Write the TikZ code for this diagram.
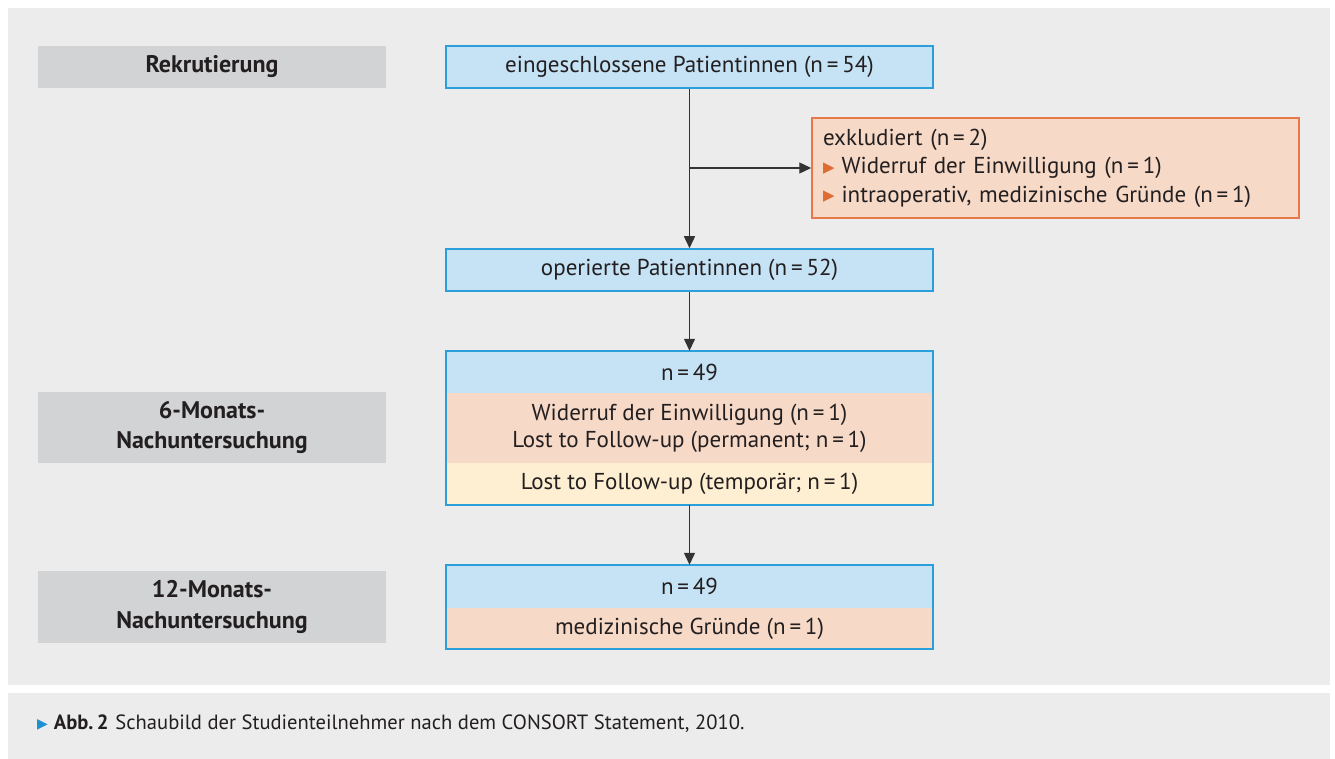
\documentclass[tikz,border=0pt]{standalone}
\usepackage{fontspec}
\setmainfont{PT Sans}
\newfontfamily\symf{DejaVu Sans}
\usetikzlibrary{arrows.meta}
\definecolor{panel}{HTML}{EBECEB}
\definecolor{lblgray}{HTML}{D1D3D4}
\definecolor{bluef}{HTML}{C6E2F5}
\definecolor{blueb}{HTML}{2A9FDB}
\definecolor{peach}{HTML}{F6D9C7}
\definecolor{exor}{HTML}{E8774A}
\definecolor{bullet}{HTML}{E06A33}
\definecolor{yel}{HTML}{FEEFD2}
\definecolor{txt}{HTML}{231F20}
\definecolor{arrc}{HTML}{333333}
\definecolor{capblue}{HTML}{1E8FD0}
\newcommand{\mainfs}{\fontsize{23}{27}\selectfont}
\newcommand{\bul}{{\color{bullet}\fontsize{15}{15}\symf\raisebox{1.5pt}{▶}}\hspace{7pt}}
\begin{document}
\begin{tikzpicture}[x=1pt,y=-1pt,
  lbl/.style={fill=lblgray, minimum width=348pt, inner sep=0pt, text=txt,
    font=\bfseries\fontsize{24}{30.5}\selectfont, align=center},
  part/.style={minimum width=487pt, inner sep=0pt, text=txt, font=\mainfs, align=center},
  bluebox/.style={part, fill=bluef, draw=blueb, line width=1.5pt},
  frame/.style={draw=blueb, line width=1.5pt},
  exbox/.style={fill=peach, draw=exor, line width=1.5pt, text width=465pt,
    inner xsep=11pt, inner ysep=0pt, minimum height=100pt, align=left, text=txt,
    font=\fontsize{23}{28.5}\selectfont},
  arr/.style={draw=arrc, line width=1.3pt, -{Triangle[length=12pt,width=11pt]}}]
\useasboundingbox (0,0) rectangle (1335,759);
\fill[white] (0,0) rectangle (1335,759);
\fill[panel] (8,8) rectangle (1330,685);
\fill[panel] (8,693) rectangle (1330,759);

% labels
\node[lbl, minimum height=42pt] (rek) at (212,67) {Rekrutierung};
\node[lbl, minimum height=71pt] (m6) at (212,427.5) {6-Monats-\\Nachuntersuchung};
\node[lbl, minimum height=72pt] (m12) at (212,607) {12-Monats-\\Nachuntersuchung};

% main column
\node[bluebox, minimum height=42pt] (incl) at (689.5,67) {eingeschlossene Patientinnen (n\,=\,54)};
\node[exbox] (excl) at (1055.5,168) {exkludiert (n\,=\,2)\\\bul Widerruf der Einwilligung (n\,=\,1)\\\bul intraoperativ, medizinische Gründe (n\,=\,1)};
\node[bluebox, minimum height=42pt] (op) at (689.5,270) {operierte Patientinnen (n\,=\,52)};

\node[part, fill=bluef, minimum height=42pt] (n49a) at (689.5,372) {n\,=\,49};
\node[part, fill=peach, minimum height=70pt] (wid) at (689.5,428) {Widerruf der Einwilligung (n\,=\,1)\\Lost to Follow-up (permanent; n\,=\,1)};
\node[part, fill=yel, minimum height=42pt] (lt) at (689.5,484) {Lost to Follow-up (temporär; n\,=\,1)};
\draw[frame] (n49a.north west) rectangle (lt.south east);

\node[part, fill=bluef, minimum height=43pt] (n49b) at (689.5,586.5) {n\,=\,49};
\node[part, fill=peach, minimum height=41pt] (med) at (689.5,628.5) {medizinische Gründe (n\,=\,1)};
\draw[frame] (n49b.north west) rectangle (med.south east);

% connectors
\draw[arr] (incl.south) -- (op.north);
\draw[arr] (incl.south |- excl.west) -- (excl.west);
\draw[arr] (op.south) -- (n49a.north);
\draw[arr] (lt.south) -- (n49b.north);

% caption
\node[anchor=west, inner sep=0pt, text=txt, font=\fontsize{20.6}{20.6}\selectfont] (cap) at (37,724)
  {{\color{capblue}\fontsize{14}{14}\symf\raisebox{1.5pt}{▶}}\hspace{6pt}\textbf{Abb.\,2}\hspace{7pt}Schaubild der Studienteilnehmer nach dem CONSORT Statement, 2010.};
\end{tikzpicture}
\end{document}
